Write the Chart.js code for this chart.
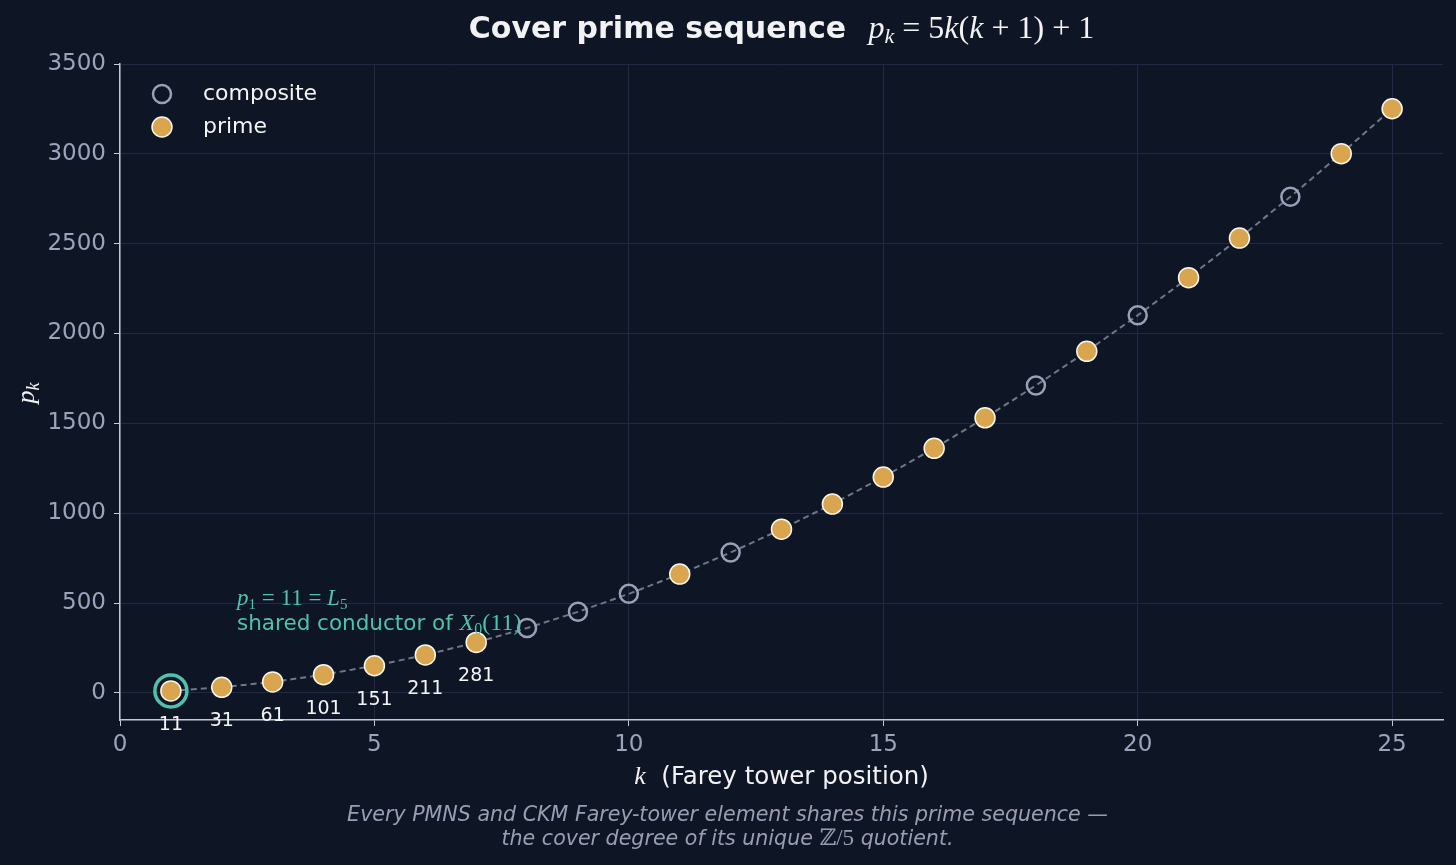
<!DOCTYPE html>
<html lang="en">
<head>
    <meta charset="UTF-8">
    <title>Cover prime sequence</title>
    <script src="https://cdn.jsdelivr.net/npm/chart.js@4.4.0/dist/chart.umd.min.js"></script>
    <style>
        html, body { margin: 0; padding: 0; background: #0e1525; }
        #wrap { width: 1456px; height: 865px; }
    </style>
</head>
<body>
<div id="wrap">
    <canvas id="myChart" width="1456" height="865"></canvas>
</div>

<script>
    // values
    const kValues = [1, 2, 3, 4, 5, 6, 7, 8, 9, 10, 11, 12, 13, 14, 15, 16, 17, 18, 19, 20, 21, 22, 23, 24, 25];
    const pValues = [11, 31, 61, 101, 151, 211, 281, 361, 451, 551, 661, 781, 911, 1051, 1201,
                     1361, 1531, 1711, 1901, 2101, 2311, 2531, 2761, 3001, 3251];
    const compositeK = [8, 9, 10, 12, 18, 20, 23];
    const labelledK = [1, 2, 3, 4, 5, 6, 7];
    const xTicks = [0, 5, 10, 15, 20, 25];
    const yTicks = [0, 500, 1000, 1500, 2000, 2500, 3000, 3500];

    const BG = '#0e1525';
    const GOLD = '#d9a54f';
    const RING = '#9c9fb8';
    const TEAL = '#4fc1ad';
    const TICK_TXT = '#9ea3bb';
    const SANS = '"DejaVu Sans", sans-serif';
    const SERIF = '"Liberation Serif", "DejaVu Serif", serif';

    const allPoints = kValues.map((k, i) => ({x: k, y: pValues[i]}));
    const compositePoints = allPoints.filter(p => compositeK.includes(p.x));
    const primePoints = allPoints.filter(p => !compositeK.includes(p.x));

    // draw a run of text pieces (different fonts) starting at x
    function richWidth(ctx, segs) {
        let w = 0;
        segs.forEach(s => { ctx.font = s.font; w += ctx.measureText(s.t).width; });
        return w;
    }
    function drawRich(ctx, segs, x, y, align) {
        let w = richWidth(ctx, segs);
        let cx = align === 'center' ? x - w / 2 : x;
        ctx.textAlign = 'left';
        ctx.textBaseline = 'alphabetic';
        segs.forEach(s => {
            ctx.font = s.font;
            ctx.fillStyle = s.color;
            ctx.fillText(s.t, cx, y + (s.dy || 0));
            cx += ctx.measureText(s.t).width;
        });
    }

    const it = sz => 'italic ' + sz + 'px ' + SERIF;
    const rm = sz => sz + 'px ' + SERIF;

    const extras = {
        id: 'extras',
        beforeDraw(chart) {
            const c = chart.ctx;
            c.save();
            c.fillStyle = BG;
            c.fillRect(0, 0, chart.width, chart.height);
            c.restore();
        },
        afterDraw(chart) {
            const c = chart.ctx;
            const xs = chart.scales.x, ys = chart.scales.y;
            const area = chart.chartArea;
            const mid = (area.left + area.right) / 2;
            c.save();

            // title
            const W = '#f2f2f5';
            drawRich(c, [
                {t: 'Cover prime sequence', font: 'bold 30px ' + SANS, color: W},
                {t: '   ', font: rm(30), color: W},
                {t: 'p', font: it(32), color: W},
                {t: 'k', font: it(22), color: W, dy: 5},
                {t: ' = 5', font: rm(32), color: W},
                {t: 'k', font: it(32), color: W},
                {t: '(', font: rm(32), color: W},
                {t: 'k', font: it(32), color: W},
                {t: ' + 1) + 1', font: rm(32), color: W}
            ], mid, 38, 'center');

            // axis titles
            drawRich(c, [
                {t: 'k', font: it(26), color: W},
                {t: '  (Farey tower position)', font: '24.5px ' + SANS, color: W}
            ], mid, 784, 'center');

            c.save();
            c.translate(34, 393);
            c.rotate(-Math.PI / 2);
            drawRich(c, [
                {t: 'p', font: it(26), color: W},
                {t: 'k', font: it(18), color: W, dy: 5}
            ], 0, 0, 'center');
            c.restore();

            // caption
            const CAP = '#9a9db4';
            drawRich(c, [
                {t: 'Every PMNS and CKM Farey-tower element shares this prime sequence \u2014', font: 'italic 20.6px ' + SANS, color: CAP}
            ], mid - 54, 821, 'center');
            drawRich(c, [
                {t: 'the cover degree of its unique ', font: 'italic 20.6px ' + SANS, color: CAP},
                {t: '\u2124', font: rm(23), color: CAP},
                {t: '/5', font: rm(23), color: CAP},
                {t: ' quotient.', font: 'italic 20.6px ' + SANS, color: CAP}
            ], mid - 54, 845, 'center');

            // value labels under the first points
            c.font = '19px ' + SANS;
            c.fillStyle = '#f4f4f6';
            c.textAlign = 'center';
            c.textBaseline = 'middle';
            labelledK.forEach(k => {
                const p = pValues[kValues.indexOf(k)];
                c.fillText(String(p), xs.getPixelForValue(k), ys.getPixelForValue(p) + 34);
            });

            // annotation for p1
            const ax = xs.getPixelForValue(2.3);
            const ay = ys.getPixelForValue(350);
            drawRich(c, [
                {t: 'p', font: it(23), color: TEAL},
                {t: '1', font: rm(15), color: TEAL, dy: 4},
                {t: ' = 11 = ', font: rm(23), color: TEAL},
                {t: 'L', font: it(23), color: TEAL},
                {t: '5', font: rm(15), color: TEAL, dy: 4}
            ], ax, ay - 25, 'left');
            drawRich(c, [
                {t: 'shared conductor of ', font: '21.5px ' + SANS, color: TEAL},
                {t: 'X', font: it(24), color: TEAL},
                {t: '0', font: rm(16), color: TEAL, dy: 4},
                {t: '(11)', font: rm(24), color: TEAL}
            ], ax, ay, 'left');

            // legend
            const lx = area.left + 42;
            c.lineWidth = 2.5;
            c.strokeStyle = RING;
            c.beginPath();
            c.arc(lx, area.top + 30, 9, 0, Math.PI * 2);
            c.stroke();
            c.fillStyle = GOLD;
            c.strokeStyle = '#fbf6ea';
            c.lineWidth = 1.5;
            c.beginPath();
            c.arc(lx, area.top + 63, 10, 0, Math.PI * 2);
            c.fill();
            c.stroke();
            c.font = '22px ' + SANS;
            c.fillStyle = '#f4f4f6';
            c.textAlign = 'left';
            c.textBaseline = 'middle';
            c.fillText('composite', lx + 41, area.top + 30);
            c.fillText('prime', lx + 41, area.top + 63);

            c.restore();
        }
    };

    const ctx = document.getElementById('myChart').getContext('2d');
    const myChart = new Chart(ctx, {
        type: 'scatter',
        data: {
            datasets: [
                {
                    label: 'sequence',
                    data: allPoints,
                    showLine: true,
                    borderColor: '#70778a',
                    borderWidth: 2,
                    borderDash: [6, 4],
                    pointRadius: 0,
                    order: 4
                },
                {
                    label: 'composite',
                    data: compositePoints,
                    pointRadius: 9,
                    pointBackgroundColor: 'rgba(0,0,0,0)',
                    pointBorderColor: RING,
                    pointBorderWidth: 2.5,
                    order: 3
                },
                {
                    label: 'prime',
                    data: primePoints,
                    pointRadius: 10,
                    pointBackgroundColor: GOLD,
                    pointBorderColor: '#fbf6ea',
                    pointBorderWidth: 1.5,
                    order: 2
                },
                {
                    label: 'halo',
                    data: [allPoints[0]],
                    pointRadius: 16,
                    pointBackgroundColor: 'rgba(0,0,0,0)',
                    pointBorderColor: TEAL,
                    pointBorderWidth: 3.5,
                    order: 1
                }
            ]
        },
        options: {
            responsive: false,
            animation: false,
            events: [],
            layout: {
                autoPadding: false,
                padding: {left: 0, right: 13, top: 64, bottom: 0}
            },
            scales: {
                x: {
                    type: 'linear',
                    min: 0,
                    max: 26,
                    afterFit: s => { s.height = 145; s.paddingLeft = 0; s.paddingRight = 0; },
                    afterBuildTicks: s => { s.ticks = xTicks.map(v => ({value: v})); },
                    ticks: {
                        color: TICK_TXT,
                        font: {family: SANS, size: 23},
                        padding: 5,
                        callback: v => String(v)
                    },
                    grid: {
                        color: '#212944',
                        lineWidth: 1,
                        tickColor: '#c5c9d6',
                        tickLength: 6
                    },
                    border: {color: '#c5c9d6', width: 1.5}
                },
                y: {
                    type: 'linear',
                    min: -151,
                    max: 3500,
                    afterFit: s => { s.width = 120; s.paddingTop = 0; s.paddingBottom = 0; },
                    afterBuildTicks: s => { s.ticks = yTicks.map(v => ({value: v})); },
                    ticks: {
                        color: TICK_TXT,
                        font: {family: SANS, size: 23},
                        padding: 8,
                        callback: v => String(v)
                    },
                    grid: {
                        color: '#212944',
                        lineWidth: 1,
                        tickColor: '#c5c9d6',
                        tickLength: 6
                    },
                    border: {color: '#c5c9d6', width: 1.5}
                }
            },
            plugins: {
                legend: {display: false},
                tooltip: {enabled: false},
                title: {display: false}
            }
        },
        plugins: [extras]
    });
</script>
</body>
</html>
